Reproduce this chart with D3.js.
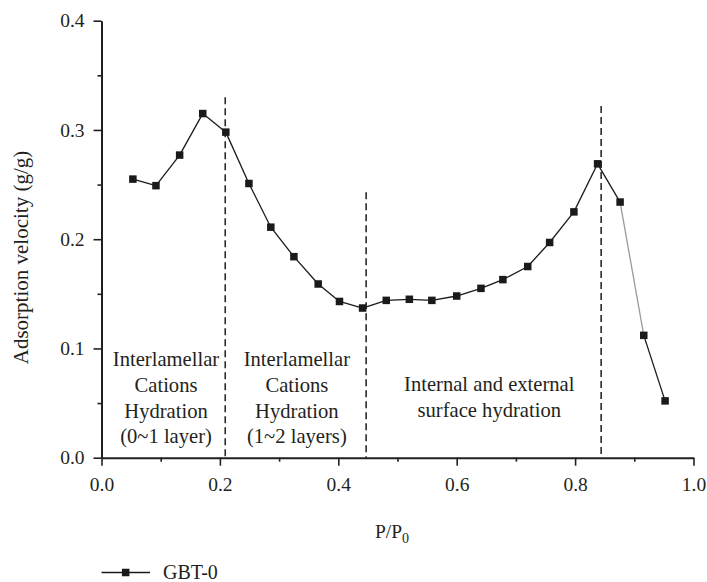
<!DOCTYPE html>
<html>
<head>
<meta charset="utf-8">
<script src="https://cdn.jsdelivr.net/npm/d3@7/dist/d3.min.js"></script>
<style>
  html, body { margin: 0; padding: 0; background: #fff; }
  svg { display: block; }
  text { font-family: "Liberation Serif", "DejaVu Serif", serif; fill: #231f20; }
</style>
</head>
<body>
<svg id="chart" width="707" height="582"></svg>
<script>
// Relative pressure P/P0 and adsorption velocity (g/g) for GBT-0
const pressure = [0.053, 0.092, 0.132, 0.171, 0.210, 0.249, 0.286, 0.325, 0.366, 0.402,
                  0.441, 0.481, 0.520, 0.558, 0.600, 0.641, 0.678, 0.720, 0.757, 0.798,
                  0.838, 0.876, 0.916, 0.952];
const velocity = [0.255, 0.249, 0.277, 0.315, 0.298, 0.251, 0.211, 0.184, 0.159, 0.143,
                  0.137, 0.144, 0.145, 0.144, 0.148, 0.155, 0.163, 0.175, 0.197, 0.225,
                  0.269, 0.234, 0.112, 0.052];
// Stage boundaries (P/P0) and the height each dashed divider reaches
const boundaryX = [0.209, 0.447, 0.844];
const boundaryTop = [0.330, 0.243, 0.322];
// Region annotations: centre position (P/P0) and lines of text
const regionX = [0.109, 0.330, 0.655];
const regionLines = [
  ["Interlamellar", "Cations", "Hydration", "(0~1 layer)"],
  ["Interlamellar", "Cations", "Hydration", "(1~2 layers)"],
  ["Internal and external", "surface hydration"]
];
const regionTopY = [0.084, 0.084, 0.061];
const xTicks = [0.0, 0.2, 0.4, 0.6, 0.8, 1.0];
const xMinor = [0.1, 0.3, 0.5, 0.7, 0.9];
const yTicks = [0.0, 0.1, 0.2, 0.3, 0.4];
const yMinor = [0.05, 0.15, 0.25, 0.35];
const seriesName = "GBT-0";

const svg = d3.select("#chart");
const x = d3.scaleLinear().domain([0, 1]).range([101.5, 693.5]);
const y = d3.scaleLinear().domain([0, 0.4]).range([457.7, 20.7]);
const ink = "#231f20";
const fs = 19.5;

// Dashed stage dividers
svg.append("g").selectAll("line").data(boundaryX).join("line")
  .attr("x1", d => x(d)).attr("x2", d => x(d))
  .attr("y1", (d, i) => y(boundaryTop[i])).attr("y2", y(0))
  .attr("stroke", "#2a2a2a").attr("stroke-width", 1.6)
  .attr("stroke-dasharray", "7,4");

// Axes: major ticks with labels, minor ticks without
function styleAxis(g) {
  g.select(".domain").attr("stroke", ink).attr("stroke-width", 2);
  g.selectAll(".tick line").attr("stroke", ink).attr("stroke-width", 1.6);
  g.selectAll(".tick text").attr("font-size", fs).attr("fill", ink)
    .style("font-family", "'Liberation Serif', serif");
}
const gx = svg.append("g").attr("transform", `translate(0,${y(0)})`)
  .call(d3.axisBottom(x).tickValues(xTicks).tickFormat(d3.format(".1f")).tickSizeInner(8).tickSizeOuter(0).tickPadding(11));
styleAxis(gx);
const gxm = svg.append("g").attr("transform", `translate(0,${y(0)})`)
  .call(d3.axisBottom(x).tickValues(xMinor).tickFormat("").tickSizeInner(4).tickSizeOuter(0));
gxm.select(".domain").remove();
gxm.selectAll(".tick line").attr("stroke", ink).attr("stroke-width", 1.6);

const gy = svg.append("g").attr("transform", `translate(${x(0)},0)`)
  .call(d3.axisLeft(y).tickValues(yTicks).tickFormat(d3.format(".1f")).tickSizeInner(8).tickSizeOuter(0).tickPadding(9));
styleAxis(gy);
const gym = svg.append("g").attr("transform", `translate(${x(0)},0)`)
  .call(d3.axisLeft(y).tickValues(yMinor).tickFormat("").tickSizeInner(4).tickSizeOuter(0));
gym.select(".domain").remove();
gym.selectAll(".tick line").attr("stroke", ink).attr("stroke-width", 1.6);

// Axis titles
svg.append("text")
  .attr("transform", "translate(28,257.5) rotate(-90)")
  .attr("text-anchor", "middle").attr("font-size", 21)
  .text("Adsorption velocity (g/g)");
const xt = svg.append("text").attr("x", 392).attr("y", 538)
  .attr("text-anchor", "middle").attr("font-size", fs);
xt.append("tspan").text("P/P");
xt.append("tspan").attr("dy", 5).attr("font-size", fs * 0.72).text("0");

// Region labels
regionLines.forEach((lines, i) => {
  const t = svg.append("text").attr("text-anchor", "middle").attr("font-size", 20.6);
  lines.forEach((s, j) => {
    t.append("tspan").attr("x", x(regionX[i]))
      .attr("y", y(regionTopY[i]) + j * 25.8).text(s);
  });
});

// Series line: segments drawn pairwise so the 0.876→0.916 step can be lighter
const pts = pressure.map((p, i) => [p, velocity[i]]);
svg.append("g").selectAll("line").data(d3.pairs(pts)).join("line")
  .attr("x1", d => x(d[0][0])).attr("y1", d => y(d[0][1]))
  .attr("x2", d => x(d[1][0])).attr("y2", d => y(d[1][1]))
  .attr("stroke", (d, i) => i === 21 ? "#9a9a9a" : "#1a1a1a")
  .attr("stroke-width", 1.3);

// Square markers
const ms = 7.5;
svg.append("g").selectAll("rect").data(pts).join("rect")
  .attr("x", d => x(d[0]) - ms / 2).attr("y", d => y(d[1]) - ms / 2)
  .attr("width", ms).attr("height", ms).attr("fill", "#1a1a1a");

// Legend
const lg = svg.append("g").attr("transform", "translate(0,572.5)");
lg.append("line").attr("x1", 101.5).attr("x2", 150).attr("y1", 0).attr("y2", 0)
  .attr("stroke", "#1a1a1a").attr("stroke-width", 1.3);
lg.append("rect").attr("x", 125.7 - ms / 2).attr("y", -ms / 2)
  .attr("width", ms).attr("height", ms).attr("fill", "#1a1a1a");
lg.append("text").attr("x", 163).attr("y", 6.8).attr("font-size", 20).text(seriesName);
</script>
</body>
</html>
